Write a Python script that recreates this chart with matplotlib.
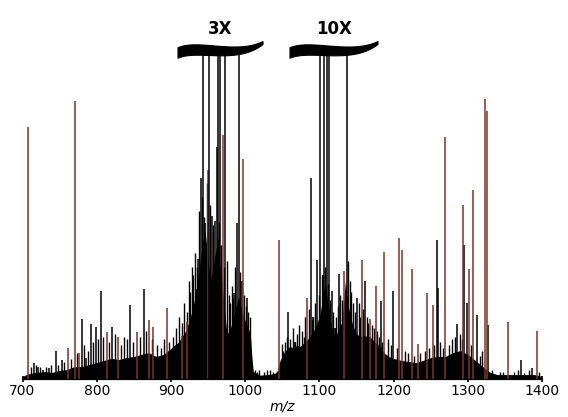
import matplotlib
matplotlib.use("Agg")
import matplotlib.pyplot as plt
from matplotlib.patches import Polygon
import numpy as np

# unresolved background (m/z, relative intensity)
env_mz = [700, 705, 710, 720, 730, 740, 750, 760, 770, 780, 790, 800, 810, 820, 830, 840,
          850, 860, 870, 880, 890, 900, 905, 910, 915, 920, 925, 930, 933, 936, 939, 942,
          946, 949, 953, 957, 961, 965, 968, 971, 975, 978, 982, 986, 991, 995, 1000, 1004,
          1007, 1009, 1011, 1020, 1030, 1040, 1044, 1047, 1052, 1056, 1060, 1065, 1070, 1074,
          1080, 1087, 1092, 1097, 1101, 1105, 1108, 1111, 1115, 1118, 1121, 1125, 1130, 1133,
          1135, 1138, 1141, 1145, 1150, 1155, 1160, 1165, 1168, 1175, 1182, 1188, 1193, 1200,
          1210, 1220, 1230, 1240, 1250, 1260, 1270, 1280, 1290, 1300, 1310, 1320, 1330, 1340,
          1350, 1360, 1380, 1390, 1400]
env_int = [0.7, 1.4, 1.8, 2.2, 2.5, 2.2, 2.9, 3.2, 4.3, 4.3, 5.0, 5.7, 6.5, 7.2, 6.8, 7.5,
           7.9, 8.6, 9.3, 7.9, 8.6, 10.8, 12, 13, 15, 17, 20.8, 26, 30, 36, 41, 48,
           53, 45, 35, 40, 47, 42, 37.6, 28, 17.2, 16, 19.7, 24, 29.4, 25, 20.8, 18,
           16, 8, 2.5, 1.2, 1.4, 1.8, 3, 6.5, 9, 10.5, 11.5, 11, 12, 11.5,
           13, 15, 17, 20, 23, 30, 35, 28, 21, 17, 15, 17, 20, 28,
           35, 28, 23, 19, 16, 15, 15.5, 15, 15, 13, 11.5, 9, 8, 7.2,
           6.5, 6.1, 5.7, 6.5, 7.5, 7.9, 7.9, 9.3, 10, 8.6, 6.5, 4.3, 2.2, 1.4,
           1.4, 1.4, 1.4, 1.4, 0.7]

# small peaks on top of the background
minor_mz = [712, 718, 724, 732, 739, 748, 756, 765, 774, 783, 788, 795, 802, 809, 817, 824,
            833, 837, 841, 849, 858, 867, 874, 881, 886, 891, 898, 903, 907, 911, 915, 918,
            921, 924, 926, 928, 930, 932, 935, 938, 942, 944, 948, 953, 957, 963, 965, 968,
            971, 975, 978, 980, 982, 984, 987, 993, 999, 1001, 1004, 1006,
            1013, 1016, 1018, 1025, 1029, 1033, 1037,
            1049, 1051, 1054, 1056, 1061, 1064, 1067, 1070, 1072, 1077, 1079, 1081, 1086, 1090,
            1092, 1094, 1099, 1103, 1105, 1108, 1112, 1115, 1118, 1121, 1123, 1125, 1128, 1131,
            1139, 1141, 1143, 1146, 1148, 1153, 1155, 1159, 1164, 1166, 1171, 1173, 1178, 1180,
            1185, 1192, 1196, 1204, 1215, 1219, 1228, 1236, 1242, 1248, 1255, 1263, 1266, 1275,
            1279, 1283, 1289, 1292, 1305, 1316, 1319, 1333, 1343, 1348, 1362, 1367, 1376, 1382,
            1396]
minor_int = [4, 5, 4, 4, 5, 5, 6, 7, 9, 12, 10, 13, 14, 15, 13, 16,
             12, 15, 14, 13, 15, 17, 14, 12, 11, 14, 13, 15, 18, 22, 20, 27,
             24, 35, 31, 40, 37, 45, 40, 60, 65, 58, 70, 62, 55, 50, 56, 48,
             40, 42, 30, 27, 33, 29, 40, 38, 30, 26, 24, 22,
             3, 2.5, 3, 2.5, 3, 3, 2.5,
             12.5, 10, 13, 15, 14, 18, 13, 16, 19, 17, 15, 22, 25, 21,
             22, 27, 30, 37, 32, 40, 34, 28, 24, 18, 22, 26, 30, 28,
             42, 35, 31, 27, 24, 27, 22, 25, 22, 20, 19, 18, 17, 15,
             13, 14, 12, 11, 10, 9, 8, 9, 10, 11, 12, 13, 11, 12,
             14, 15, 16, 14, 12, 8, 10, 3, 2.5, 2.5, 2.5, 3, 2, 3,
             2.5]

# resolved peaks, black traces
black_mz = [715.5, 721.3, 728, 736, 744.7, 752.8, 779.8, 785.6, 791.9, 798.7, 805.8, 820.2,
            844.9, 863.7, 903.2, 929.4, 933.4, 936.9, 940.6, 946, 955.8, 959.4, 961.7,
            985.4, 989.5, 995.4, 1002.2, 1058.2, 1067.3, 1088.8, 1092, 1096.5, 1104.6, 1116.7,
            1121.2, 1127, 1150.4, 1161.6, 1182.7, 1199.7, 1258.2, 1260.3, 1285.2, 1295.4,
            1298.7, 1312.9, 1327.8, 1371.8, 1387.1]
black_int = [5.4, 4.3, 3.2, 3.9, 9.7, 6.5, 21.5, 7.2, 19.4, 18.6, 31.2, 18.3,
             26.2, 31.9, 9.7, 31.2, 31.9, 42.7, 71.7, 55.9, 58.4, 56.6, 82.8,
             30.8, 55.9, 35.1, 28.7, 23.7, 13, 71.7, 22, 42.3, 37, 31.5,
             18, 37.6, 29.0, 35.1, 27.6, 31.5, 49.5, 32.6, 19.7, 47.7,
             26.9, 22.6, 19.0, 6.5, 3.6]

# resolved peaks, red traces
red_mz = [707.8, 761.7, 770.8, 776.5, 813.5, 828.3, 853.9, 870.5, 876.3, 894.3, 914.6, 921.3,
          950.4, 969.8, 997.6, 1046.1, 1083, 1133.7, 1157.1, 1168.3, 1176, 1187.2, 1207.8,
          1211.9, 1224.5, 1233.4, 1245.6, 1252.8, 1269.4, 1293.3, 1301.8, 1307.5, 1323.3,
          1325.6, 1354.7, 1393]
red_int = [90.0, 10.8, 99.6, 9.0, 16.8, 14.7, 16.5, 20.8, 18.6, 25.4, 15.4, 20.1,
           74.6, 87.1, 78.5, 49.8, 28.7, 38.7, 42.3, 21.5, 33.0, 45.2, 50.2,
           46.2, 39.4, 12.5, 30.5, 26.5, 86.7, 62.0, 39.1, 67.7, 100,
           95.7, 20.4, 17.2]

# peaks cut off by the axis breaks (scaled 3X and 10X)
cut_3x_mz = [943.7, 951.8, 963.9, 966.2, 972.9, 992.2]
cut_10x_mz = [1100.9, 1106.7, 1110.0, 1113.1, 1136.9]
cut_int = 117.5

W, H = 568, 417
fig = plt.figure(figsize=(W / 100, H / 100), dpi=100)
ax = fig.add_axes([22.5 / W, 1 - 378.5 / H, 519.5 / W, 338.5 / H])

red = '#7d3326'
ax.fill_between(env_mz, 0, env_int, color='black', lw=0, zorder=1)
ax.vlines(minor_mz, 0, minor_int, color='black', lw=1.0, zorder=2)
ax.vlines(black_mz, 0, black_int, color='black', lw=1.1, zorder=3)
ax.vlines(red_mz, 0, red_int, color=red, lw=1.1, zorder=3)
ax.vlines(cut_3x_mz, 0, cut_int, color='black', lw=1.1, zorder=3)
ax.vlines(cut_10x_mz, 0, cut_int, color='black', lw=1.1, zorder=3)

ax.set_xlim(700, 1400)
ax.set_ylim(0, 121.3)
ax.set_yticks([])
for s in ['top', 'right', 'left']:
    ax.spines[s].set_visible(False)
ax.spines['bottom'].set_linewidth(1.6)
ax.set_xticks(range(700, 1401, 100))
ax.tick_params(axis='x', direction='inout', length=4, width=1.2, labelsize=10, pad=2)
ax.set_xlabel('m/z', fontsize=10, style='italic', labelpad=1)


# wavy break marks above the clipped peaks (pixel coords, tapering to the right)
def brace(x0, x1):
    w = x1 - x0
    p0, p1 = np.array([x0, 53.0]), np.array([x0 + 0.24 * w, 44.0])
    p2, p3 = np.array([x0 + 0.69 * w, 60.0]), np.array([x1, 43.0])
    t = np.linspace(0, 1, 80)[:, None]
    c = (1 - t) ** 3 * p0 + 3 * (1 - t) ** 2 * t * p1 + 3 * (1 - t) * t ** 2 * p2 + t ** 3 * p3
    half = (10.5 - 7.5 * t[:, 0] ** 3) / 2
    top = np.column_stack([c[:, 0], c[:, 1] - half])
    bot = np.column_stack([c[::-1, 0], c[::-1, 1] + half[::-1]])
    poly = np.vstack([top, bot])
    poly = np.column_stack([poly[:, 0] / W, 1 - poly[:, 1] / H])
    fig.add_artist(Polygon(poly, closed=True, transform=fig.transFigure,
                           facecolor='black', edgecolor='black', lw=0.8, zorder=5))


brace(178, 263)
brace(290, 378)
fig.text(220 / W, 1 - 29 / H, '3X', ha='center', va='center', fontsize=12, fontweight='bold')
fig.text(334 / W, 1 - 29 / H, '10X', ha='center', va='center', fontsize=12, fontweight='bold')

fig.savefig('out.png', dpi=100)
